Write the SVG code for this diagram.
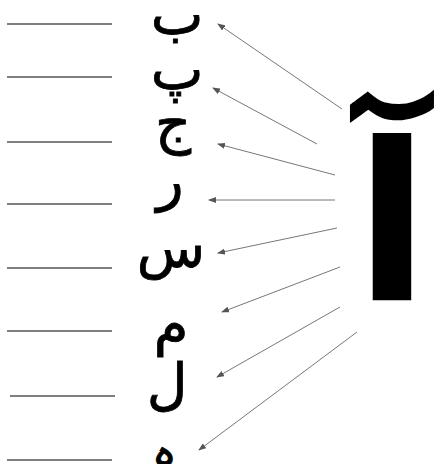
<svg xmlns="http://www.w3.org/2000/svg" width="445" height="464" viewBox="0 0 445 464">
<style>
.blank{stroke:#555;stroke-width:1.5}
.con{stroke:#777;stroke-width:1;fill:none;marker-end:url(#ah)}
.let{font-family:"DejaVu Sans",sans-serif;font-size:56px;fill:#000;text-anchor:middle;stroke:#000;stroke-width:0.8}
.big{font-family:"DejaVu Sans",sans-serif;font-size:220px;font-weight:bold;fill:#000;text-anchor:middle}
</style>
<defs>
<marker id="ah" markerWidth="8" markerHeight="6" refX="7" refY="3" orient="auto" markerUnits="userSpaceOnUse">
<path d="M0,0 L8,3 L0,6 z" fill="#555"/>
</marker>
</defs>
<rect width="445" height="464" fill="#fff"/>
<g id="blanks">
<line class="blank" x1="7" y1="24" x2="112" y2="24"/>
<line class="blank" x1="7" y1="77" x2="112" y2="77"/>
<line class="blank" x1="7" y1="142" x2="112" y2="142"/>
<line class="blank" x1="7" y1="204" x2="112" y2="204"/>
<line class="blank" x1="7" y1="268" x2="112" y2="268"/>
<line class="blank" x1="7" y1="331" x2="112" y2="331"/>
<line class="blank" x1="10" y1="396" x2="115" y2="396"/>
<line class="blank" x1="7" y1="460" x2="112" y2="460"/>
</g>
<g id="n-be"><text class="let" x="177" y="34">ب</text></g>
<g id="n-pe"><text class="let" x="177" y="89">پ</text></g>
<g id="n-jeem"><text class="let" x="173" y="142">ج</text></g>
<g id="n-re"><text class="let" x="170" y="199">ر</text></g>
<g id="n-seen"><text class="let" x="171" y="267">س</text></g>
<g id="n-meem"><text class="let" x="171" y="344">م</text></g>
<g id="n-lam"><text class="let" x="167" y="404">ل</text></g>
<g id="n-he"><text class="let" x="164" y="466" style="font-size:42px">ہ</text></g>
<g id="n-alif"><text class="big" x="392" y="300">آ</text></g>
<g id="connectors">
<line class="con" x1="342" y1="109" x2="218" y2="24"/>
<line class="con" x1="317" y1="144" x2="213" y2="88"/>
<line class="con" x1="335" y1="175" x2="218" y2="144"/>
<line class="con" x1="335" y1="200" x2="209" y2="200"/>
<line class="con" x1="337" y1="228" x2="218" y2="253"/>
<line class="con" x1="340" y1="267" x2="222" y2="312"/>
<line class="con" x1="340" y1="307" x2="217" y2="377"/>
<line class="con" x1="357" y1="332" x2="199" y2="450"/>
</g>
</svg>
